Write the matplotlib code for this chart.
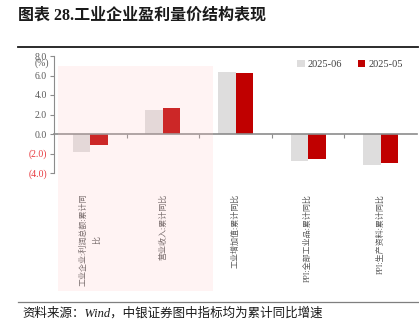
import matplotlib
matplotlib.use("Agg")
import matplotlib.pyplot as plt
import matplotlib.transforms as mtransforms
from matplotlib.patches import Rectangle
import numpy as np

plt.rcParams["font.family"] = ["Liberation Serif", "Noto Sans CJK SC", "DejaVu Sans"]

# Data: cumulative YoY growth (%)
categories = [
    "工业企业:利润总额:累计同\n比",
    "营业收入:累计同比",
    "工业增加值:累计同比",
    "PPI:全部工业品:累计同比",
    "PPI:生产资料:累计同比",
]
jun_2025 = [-1.8, 2.5, 6.4, -2.8, -3.2]
may_2025 = [-1.1, 2.7, 6.3, -2.6, -3.0]
series_names = ["2025-06", "2025-05"]

C_GREY = "#DEDDDD"
C_RED = "#C00000"
C_TICK = "#595959"
C_NEG = "#E8383D"
C_AXIS = "#8C8C8C"

W, H = 419, 331
fig = plt.figure(figsize=(W / 100, H / 100), dpi=100)
ax = fig.add_axes([54 / W, 1 - 173 / H, 363 / W, 117 / H])

x = np.arange(len(categories))
bw = 0.24
ax.bar(x - bw / 2, jun_2025, width=bw, color=C_GREY, label=series_names[0], zorder=2)
ax.bar(x + bw / 2, may_2025, width=bw, color=C_RED, label=series_names[1], zorder=2)

ax.set_xlim(-0.5, len(categories) - 0.5)
ax.set_ylim(-4, 8)

# y axis with bracketed negatives
yticks = np.arange(-4, 8.1, 2)
ax.set_yticks(yticks)
ax.set_yticklabels([f"({abs(v):.1f})" if v < 0 else f"{v:.1f}" for v in yticks])
for lbl, v in zip(ax.get_yticklabels(), yticks):
    lbl.set_color(C_NEG if v < 0 else C_TICK)
ax.tick_params(axis="y", direction="out", length=3, width=0.8, color=C_AXIS,
               labelsize=7, pad=2)

# x axis sits on zero, ticks between groups
ax.spines["bottom"].set_position(("data", 0))
ax.set_xticks(np.arange(0.5, len(categories) - 0.5, 1))
ax.set_xticklabels([])
ax.tick_params(axis="x", direction="out", length=3, width=0.8, color=C_AXIS)
for s in ["top", "right"]:
    ax.spines[s].set_visible(False)
ax.spines["left"].set_color(C_AXIS)
ax.spines["bottom"].set_color(C_AXIS)
ax.spines["bottom"].set_linewidth(1.2)

# category labels, vertical below the plot
trans = mtransforms.blended_transform_factory(ax.transData, fig.transFigure)
for xi, name in zip(x, categories):
    ax.text(xi, 1 - 194 / H, name, transform=trans, rotation=90, ha="center", va="top",
            multialignment="center", linespacing=1.8, fontsize=5.8, color=C_TICK,
            clip_on=False)

fig.text(42 / W, 1 - 63 / H, "(%)", ha="center", va="center", fontsize=7, color=C_TICK)

leg = ax.legend(loc="upper right", bbox_to_anchor=(0.978, 1.02),
                frameon=False, ncol=2, fontsize=7.5, handlelength=0.7, handleheight=0.7,
                handletextpad=0.3, columnspacing=1.5, borderaxespad=0.2)
for t in leg.get_texts():
    t.set_color("#404040")

# highlight band over the first two groups
fig.patches.append(Rectangle((58 / W, 1 - 291 / H), 155 / W, 225 / H,
                             transform=fig.transFigure, facecolor=(1.0, 0.77, 0.77),
                             alpha=0.2, edgecolor="none", zorder=5))

# title, rules and source note
fig.text(18 / W, 1 - 16 / H, "图表 28.工业企业盈利量价结构表现", fontsize=11.5,
         fontweight="bold", ha="left", va="center", color="#1a1a1a")
fig.add_artist(plt.Line2D([18 / W, 418 / W], [1 - 47 / H] * 2, transform=fig.transFigure,
                          color="#1a1a1a", linewidth=1.3))
fig.add_artist(plt.Line2D([18 / W, 418 / W], [1 - 302 / H] * 2, transform=fig.transFigure,
                          color="#7f7f7f", linewidth=0.9))
fig.text(22 / W, 1 - 313 / H, "资料来源：Wind，中银证券图中指标均为累计同比增速", fontsize=9,
         style="italic", ha="left", va="center", color="#1a1a1a")

fig.savefig("out.png", dpi=100)
